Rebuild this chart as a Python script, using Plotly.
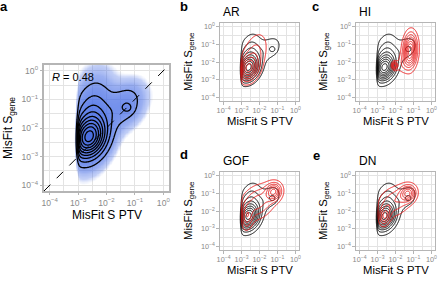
import numpy as np
import plotly.graph_objects as go

# ---------------- data (log10 units) ----------------
axis_range = [-4.2, 0.2]
tick_vals = [-4, -3, -2, -1, 0]
tick_text = ["10<sup>−4</sup>", "10<sup>−3</sup>", "10<sup>−2</sup>", "10<sup>−1</sup>", "10<sup>0</sup>"]
minor_vals = [-3.5, -2.5, -1.5, -0.5]
ptv_floor = -3.02          # smallest MisFit S PTV seen in the cloud (log10)

# density modes: (weight, centre log10 S_PTV, centre log10 S_gene, sd x, sd y, correlation)
all_genes_modes = [
    (0.45, -2.62, -2.35, 0.40, 0.45, 0.2),
    (0.45, -2.55, -1.75, 0.45, 0.85, 0.25),
    (0.12, -1.35, -1.20, 0.42, 0.48, 0.3),
    (0.004, -1.24, -1.30, 0.12, 0.12, 0.0),
]
ar_modes = [
    (0.45, -2.62, -2.40, 0.35, 0.45, 0.2),
    (0.55, -2.30, -1.60, 0.50, 0.85, 0.4),
]
hi_modes = [
    (0.85, -1.18, -1.35, 0.25, 0.62, 0.1),
    (0.05, -2.05, -2.20, 0.10, 0.14, 0.0),
    (0.10, -1.60, -2.10, 0.30, 0.40, 0.3),
]
gof_modes = [
    (0.20, -1.20, -0.90, 0.28, 0.32, 0.1),
    (0.60, -2.10, -1.50, 0.65, 0.65, 0.3),
    (0.10, -2.70, -2.40, 0.20, 0.45, 0.1),
]
dn_modes = [
    (0.22, -1.30, -1.00, 0.28, 0.30, 0.1),
    (0.12, -2.60, -2.30, 0.20, 0.35, 0.2),
    (0.55, -2.05, -1.45, 0.65, 0.60, 0.3),
]
r_value = 0.48
panel_titles = ["AR", "HI", "GOF", "DN"]
panel_letters = ["a", "b", "c", "d", "e"]
red_levels = [6, 8, 6, 6]
black_levels = 9

# ---------------- helpers ----------------
gx = np.linspace(axis_range[0], axis_range[1], 221)
gy = np.linspace(axis_range[0], axis_range[1], 221)
GX, GY = np.meshgrid(gx, gy)


def density(modes):
    z = np.zeros_like(GX)
    for w, mx, my, sx, sy, r in modes:
        dx = (GX - mx) / sx
        dy = (GY - my) / sy
        q = (dx * dx + dy * dy - 2 * r * dx * dy) / (1 - r * r)
        z += w / (2 * np.pi * sx * sy * np.sqrt(1 - r * r)) * np.exp(-0.5 * q)
    return z / (1 + np.exp(-(GX - ptv_floor) / 0.035))


W, H = 440, 282


def px(x):
    return x / W


def py(y):
    return 1 - y / H


# panel boxes in pixels: (left, top, right, bottom)
boxes = [
    (44, 65, 169, 191),
    (220, 23, 299, 101),
    (356, 23, 435, 101),
    (220, 172, 299, 250),
    (356, 172, 435, 250),
]

fig = go.Figure()

z_all = density(all_genes_modes)
peak_all = z_all.max()

# blue cloud (panel a)
blue_scale = [
    [0.0, "rgba(62,102,228,0)"],
    [0.012, "rgba(62,102,228,0)"],
    [0.025, "rgba(62,102,228,0.32)"],
    [0.06, "rgba(62,102,228,0.52)"],
    [0.14, "rgba(62,102,228,0.68)"],
    [0.3, "rgba(62,102,228,0.8)"],
    [1.0, "rgba(55,95,220,0.9)"],
]
fig.add_trace(go.Heatmap(x=gx, y=gy, z=z_all / peak_all, colorscale=blue_scale, zmin=0, zmax=1,
                         zsmooth="best", showscale=False, hoverinfo="skip", xaxis="x", yaxis="y"))


def contour(z, n, color, width, xa, ya):
    pk = z.max()
    step = pk / (n + 0.6)
    return go.Contour(x=gx, y=gy, z=z, showscale=False, hoverinfo="skip",
                      contours=dict(coloring="lines", start=step, end=step * n, size=step),
                      colorscale=[[0, color], [1, color]], line=dict(width=width, smoothing=1.0),
                      xaxis=xa, yaxis=ya)


fig.add_trace(contour(z_all, black_levels, "black", 1.3, "x", "y"))

sub_modes = [ar_modes, hi_modes, gof_modes, dn_modes]
for i, modes in enumerate(sub_modes):
    k = i + 2
    fig.add_trace(contour(z_all, black_levels, "black", 1.0, f"x{k}", f"y{k}"))
    fig.add_trace(contour(density(modes), red_levels[i], "#ee1c1c", 1.0, f"x{k}", f"y{k}"))

# dashed identity line on panel a
fig.add_trace(go.Scatter(x=axis_range, y=axis_range, mode="lines", hoverinfo="skip",
                         line=dict(color="black", width=1, dash="dash"), showlegend=False,
                         xaxis="x", yaxis="y"))

grid_c = "#e3e3e3"
frame_c = "#b5b5b5"
for i, (l, t, r, b) in enumerate(boxes):
    k = "" if i == 0 else str(i + 1)
    fs = 8.6 if i == 0 else 7.3
    common = dict(range=axis_range, tickvals=tick_vals, ticktext=tick_text, showgrid=True,
                  gridcolor=grid_c, gridwidth=0.8, zeroline=False, showline=True, mirror=True,
                  linecolor=frame_c, linewidth=1.5 if i == 0 else 1.2, ticks="outside", ticklen=2.5,
                  tickcolor=frame_c,
                  tickfont=dict(family="Liberation Sans, Arial", size=fs, color="#8a8a8a"),
                  minor=dict(tickvals=minor_vals, showgrid=True, gridcolor=grid_c, gridwidth=0.6, ticks=""),
                  automargin=False, fixedrange=True)
    fig.layout[f"xaxis{k}"] = dict(domain=[px(l), px(r)], anchor=f"y{k}", **common)
    fig.layout[f"yaxis{k}"] = dict(domain=[py(b), py(t)], anchor=f"x{k}", **common)

font_main = "Liberation Sans, Arial"
ann = []
# axis titles
for i, (l, t, r, b) in enumerate(boxes):
    fs = 12 if i == 0 else 11.3
    xt_y = b + (24 if i == 0 else 20)
    ann.append(dict(text="MisFit S PTV", x=px((l + r) / 2), y=py(xt_y), xref="paper", yref="paper",
                    showarrow=False, xanchor="center", yanchor="middle",
                    font=dict(family=font_main, size=fs, color="black")))
    yt_x = 9 if i == 0 else (189 if l < 300 else 324)
    ann.append(dict(text="MisFit S<sub>gene</sub>", x=px(yt_x), y=py((t + b) / 2), xref="paper", yref="paper",
                    showarrow=False, xanchor="center", yanchor="middle", textangle=-90,
                    font=dict(family=font_main, size=fs, color="black")))
# panel titles
for i, name in enumerate(panel_titles):
    l, t, r, b = boxes[i + 1]
    ann.append(dict(text=name, x=px(l + 1), y=py(t - 11), xref="paper", yref="paper", showarrow=False,
                    xanchor="left", yanchor="middle", font=dict(family=font_main, size=12, color="black")))
# panel letters
letter_pos = [(4, 7), (184, 6), (315, 6), (184, 154), (316, 155)]
for lt, (x, y) in zip(panel_letters, letter_pos):
    ann.append(dict(text=f"<b>{lt}</b>", x=px(x), y=py(y), xref="paper", yref="paper", showarrow=False,
                    xanchor="center", yanchor="middle", font=dict(family=font_main, size=13, color="black")))
# correlation label
ann.append(dict(text=f"<i>R</i> = {r_value:.2f}", x=-4.0, y=-0.22, xref="x", yref="y", showarrow=False,
                xanchor="left", yanchor="middle", font=dict(family=font_main, size=11, color="black")))

fig.update_layout(width=W, height=H, margin=dict(l=0, r=0, t=0, b=0), paper_bgcolor="white",
                  plot_bgcolor="white", showlegend=False, annotations=ann, template="none")
fig.write_html("out.html", config={"displayModeBar": False},
               post_script="document.body.style.margin='0px';")
